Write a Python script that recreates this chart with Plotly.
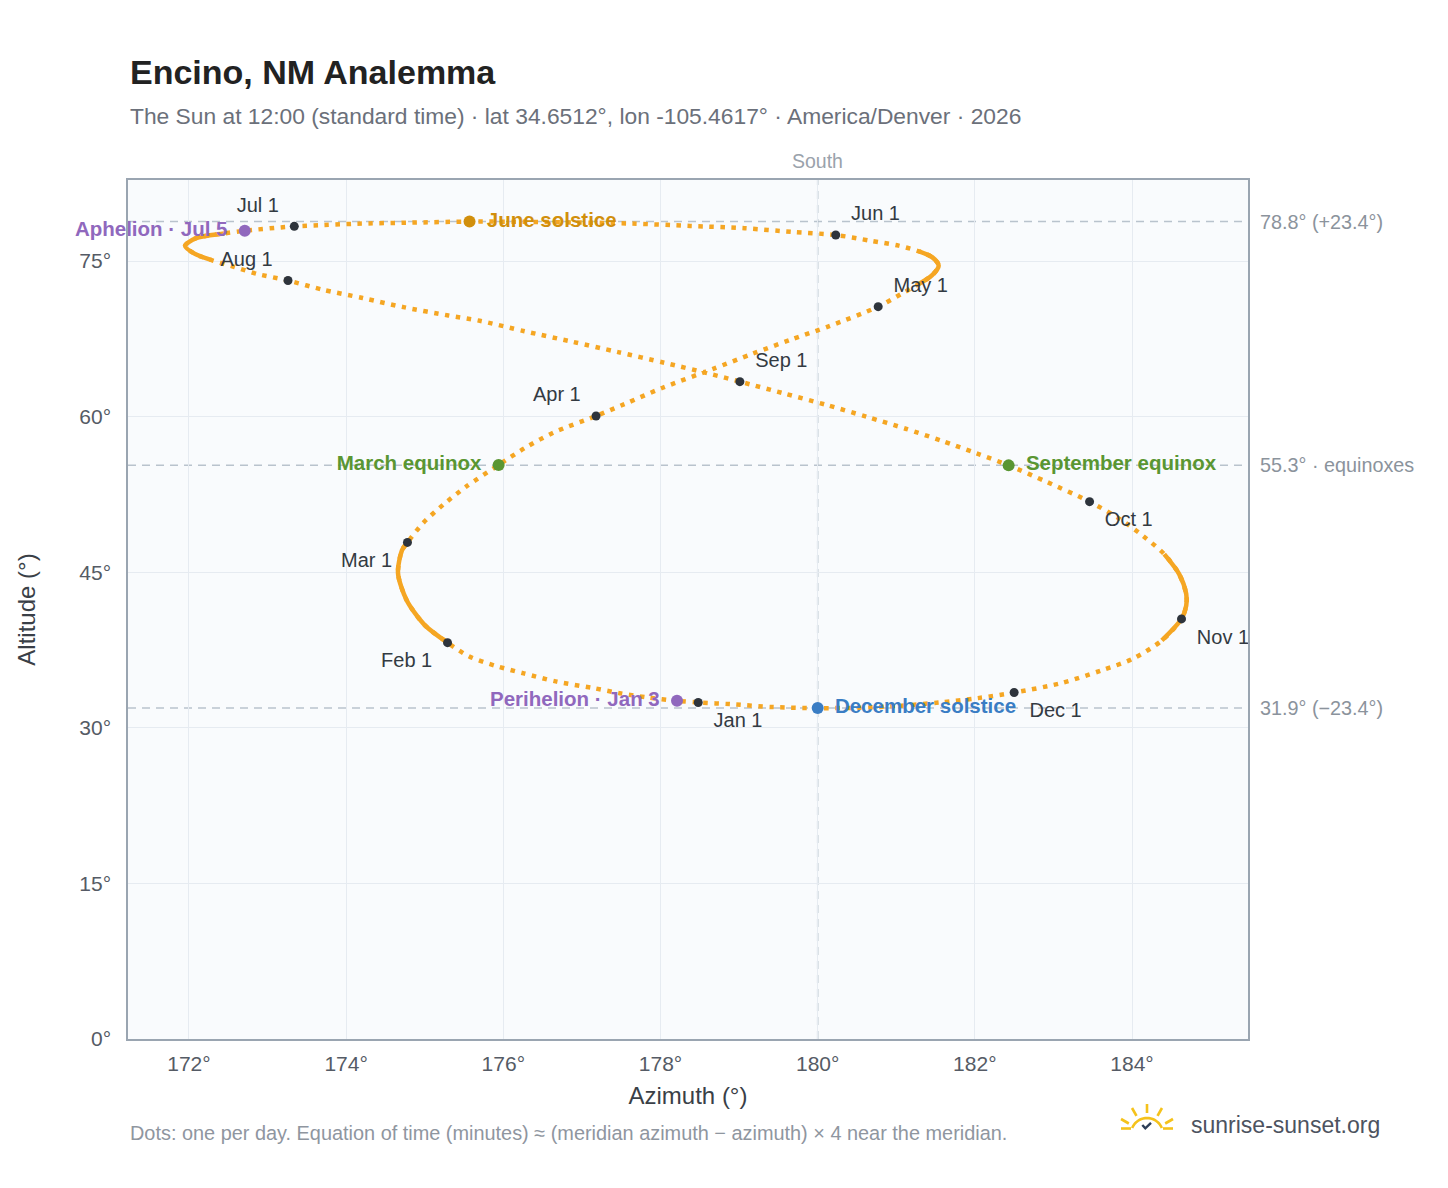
import math
import plotly.graph_objects as go

# ---- sun path at 12:00 standard time (time order, Jan 1 -> Dec 31)
path_az = [178.48, 178.21, 177.84, 177.48, 177.13, 176.68, 176.26, 175.89, 175.56, 175.29,
           175.00, 174.77, 174.66, 174.71, 174.78, 174.98, 175.24, 175.53, 175.94, 176.28,
           176.64, 177.18, 177.54, 178.02, 178.67, 179.17, 179.66, 180.14, 180.77, 181.06,
           181.27, 181.45, 181.54, 181.46, 181.29, 181.03, 180.67, 180.23, 179.68, 179.07,
           178.38, 177.64, 176.60, 175.57, 174.83, 174.14, 173.72, 173.34, 172.71, 172.45,
           172.09, 171.95, 172.07, 172.28, 172.58, 172.86, 173.26, 173.70, 174.21, 174.73,
           175.30, 175.70, 176.27, 176.87, 177.46, 178.05, 178.63, 179.01, 179.57, 180.11,
           180.63, 181.12, 181.58, 182.02, 182.43, 182.92, 183.46, 183.85, 184.14, 184.41,
           184.60, 184.69, 184.69, 184.63, 184.38, 184.01, 183.61, 183.10, 182.50, 182.04,
           181.55, 181.04, 180.51, 180.00, 179.43, 178.89, 178.48]
path_alt = [32.44, 32.60, 32.92, 33.34, 33.85, 34.45, 35.25, 36.00, 36.90, 38.21,
            39.90, 42.30, 44.90, 47.10, 47.87, 49.75, 51.54, 53.27, 55.34, 57.00,
            58.47, 60.06, 61.20, 62.76, 64.60, 66.06, 67.42, 68.70, 70.60, 71.81,
            72.71, 73.58, 74.55, 75.35, 75.93, 76.48, 76.96, 77.51, 77.80, 78.16,
            78.38, 78.61, 78.75, 78.80, 78.70, 78.60, 78.47, 78.34, 77.92, 77.66,
            77.20, 76.46, 75.71, 75.10, 74.42, 73.77, 73.12, 72.24, 71.43, 70.55,
            69.75, 69.24, 68.23, 67.23, 66.22, 65.19, 64.12, 63.37, 62.24, 61.13,
            59.97, 58.83, 57.67, 56.47, 55.30, 53.69, 51.80, 50.10, 48.50, 46.74,
            44.82, 42.90, 41.78, 40.50, 38.42, 36.65, 35.53, 34.31, 33.40, 32.86,
            32.44, 32.12, 31.93, 31.90, 32.00, 32.28, 32.44]

# stretches where the daily dots overlap into a solid line (index ranges into the path)
dense_runs = [(9, 15), (30, 35), (49, 54), (79, 85)]

# ---- first of each month
month_names = ["Jan 1", "Feb 1", "Mar 1", "Apr 1", "May 1", "Jun 1",
               "Jul 1", "Aug 1", "Sep 1", "Oct 1", "Nov 1", "Dec 1"]
month_az = [178.48, 175.29, 174.78, 177.18, 180.77, 180.23,
            173.34, 173.26, 179.01, 183.46, 184.63, 182.50]
month_alt = [32.44, 38.21, 47.87, 60.06, 70.60, 77.51,
             78.34, 73.12, 63.37, 51.80, 40.50, 33.40]
month_pos = ["bottom right", "bottom left", "bottom left", "top left", "top right", "top right",
             "top left", "top left", "top right", "bottom right", "bottom right", "bottom right"]

# ---- solstices, equinoxes, perihelion/aphelion
event_names = ["June solstice", "March equinox", "September equinox",
               "December solstice", "Perihelion · Jan 3", "Aphelion · Jul 5"]
event_az = [175.57, 175.94, 182.43, 180.00, 178.21, 172.71]
event_alt = [78.80, 55.34, 55.30, 31.90, 32.60, 77.92]
event_colors = ["#d18f0c", "#5a9632", "#5a9632", "#3a7dc4", "#9068bd", "#9068bd"]
event_pos = ["middle right", "middle left", "middle right",
             "middle right", "middle left", "middle left"]

# ---- reference altitudes
ref_alt = [78.8, 55.3, 31.9]
ref_text = ["78.8° (+23.4°)", "55.3° · equinoxes", "31.9° (−23.4°)"]

x_ticks = [172, 174, 176, 178, 180, 182, 184]
y_ticks = [0, 15, 30, 45, 60, 75]

FONT = "Liberation Sans, Arial, Helvetica, sans-serif"
PAGE = 8  # body margin of the page the figure sits in
W, H = 1440, 1180
L, R, T, B = 120, 200, 172, 149
PW, PH = W - L - R, H - T - B


def px(x):
    # page pixel -> paper x
    return (x - PAGE - L) / PW


def py(y):
    # page pixel -> paper y
    return (H - B + PAGE - y) / PH


def pad(name, pos):
    sp = "\u00a0"
    if "right" in pos:
        return sp + name
    if "left" in pos:
        return name + sp
    return name


fig = go.Figure()

fig.add_trace(go.Scatter(
    x=path_az, y=path_alt, mode="lines",
    line=dict(color="#f5a623", width=4.5, dash="4.5px,6.5px", shape="spline", smoothing=0.8),
    hoverinfo="skip"))

for i0, i1 in dense_runs:
    fig.add_trace(go.Scatter(
        x=path_az[i0:i1], y=path_alt[i0:i1], mode="lines",
        line=dict(color="#f5a623", width=4.5, shape="spline", smoothing=0.8),
        hoverinfo="skip"))

fig.add_trace(go.Scatter(
    x=month_az, y=month_alt, mode="markers",
    marker=dict(size=9, color="#2e343c"), hoverinfo="skip"))

# month labels (transparent marker sets the text offset)
fig.add_trace(go.Scatter(
    x=month_az, y=month_alt, mode="markers+text",
    text=[pad(n, p) for n, p in zip(month_names, month_pos)],
    textposition=month_pos, cliponaxis=True,
    textfont=dict(family=FONT, size=20, color="#333a42"),
    marker=dict(size=14, color="rgba(0,0,0,0)"), hoverinfo="skip"))

fig.add_trace(go.Scatter(
    x=event_az, y=event_alt, mode="markers",
    marker=dict(size=12, color=event_colors), hoverinfo="skip"))

fig.add_trace(go.Scatter(
    x=event_az, y=event_alt, mode="markers+text", text=["<b>%s</b>" % s for s in event_names],
    textposition=event_pos, cliponaxis=False,
    textfont=dict(family=FONT, size=20.5, color=event_colors),
    marker=dict(size=26, color="rgba(0,0,0,0)"), hoverinfo="skip"))

shapes = []
for a in ref_alt:
    shapes.append(dict(type="line", xref="paper", x0=0, x1=1, yref="y", y0=a, y1=a,
                       line=dict(color="#b9c3cd", width=1.5, dash="8px,6px"), layer="between"))
shapes.append(dict(type="line", xref="x", x0=180, x1=180, yref="paper", y0=0, y1=1,
                   line=dict(color="#b3bec9", width=1.5, dash="8px,6px"), layer="between"))

# logo: rising sun with a check mark
cx, cy, rr = 1147, 1134, 16
arc = []
for i in range(0, 21):
    t = math.radians(158 - i * (136 / 20))
    arc.append((cx + rr * math.cos(t), cy - rr * math.sin(t)))
path = "M " + " L ".join("%.5f,%.5f" % (px(a), py(b)) for a, b in arc)
shapes.append(dict(type="path", xref="paper", yref="paper", path=path,
                   line=dict(color="#f5c21b", width=2.6)))
for ang in [30, 60, 90, 120, 150]:
    t = math.radians(ang)
    shapes.append(dict(type="line", xref="paper", yref="paper",
                       x0=px(cx + 21 * math.cos(t)), y0=py(cy - 21 * math.sin(t)),
                       x1=px(cx + 30 * math.cos(t)), y1=py(cy - 30 * math.sin(t)),
                       line=dict(color="#f5c21b", width=2.6)))
for x0, x1 in [(1121, 1131), (1163, 1173)]:
    shapes.append(dict(type="line", xref="paper", yref="paper",
                       x0=px(x0), x1=px(x1), y0=py(1128.5), y1=py(1128.5),
                       line=dict(color="#f5c21b", width=2.6)))
shapes.append(dict(type="path", xref="paper", yref="paper",
                   path="M %.5f,%.5f L %.5f,%.5f L %.5f,%.5f" % (
                       px(1142.3), py(1125), px(1145.3), py(1128.3), px(1151), py(1122.8)),
                   line=dict(color="#2c3e58", width=2.4)))

annotations = [
    dict(text="<b>Encino, NM Analemma</b>", xref="paper", yref="paper", x=px(128), y=py(72),
         xanchor="left", yanchor="middle", showarrow=False,
         font=dict(family=FONT, size=34, color="#222222")),
    dict(text="The Sun at 12:00 (standard time) · lat 34.6512°, lon -105.4617° · America/Denver · 2026",
         xref="paper", yref="paper", x=px(128), y=py(116), xanchor="left", yanchor="middle",
         showarrow=False, font=dict(family=FONT, size=22.8, color="#6b707a")),
    dict(text="South", xref="x", yref="paper", x=180, y=py(161), xanchor="center",
         yanchor="middle", showarrow=False, font=dict(family=FONT, size=19.5, color="#9aa2ab")),
    dict(text="Dots: one per day. Equation of time (minutes) ≈ (meridian azimuth − azimuth) × 4 near the meridian.",
         xref="paper", yref="paper", x=px(128), y=py(1133), xanchor="left", yanchor="middle",
         showarrow=False, font=dict(family=FONT, size=19.9, color="#8f969f")),
    dict(text="sunrise-sunset.org", xref="paper", yref="paper", x=px(1189), y=py(1125),
         xanchor="left", yanchor="middle", showarrow=False,
         font=dict(family=FONT, size=23, color="#4d535f")),
]
for a, t in zip(ref_alt, ref_text):
    annotations.append(dict(text=t, xref="paper", yref="y", x=px(1258), y=a, xanchor="left",
                            yanchor="middle", showarrow=False,
                            font=dict(family=FONT, size=19.8, color="#8b939c")))

fig.update_layout(
    width=W, height=H,
    margin=dict(l=L, r=R, t=T, b=B),
    paper_bgcolor="white", plot_bgcolor="#f9fbfd",
    showlegend=False,
    font=dict(family=FONT, size=21, color="#555b65"),
    shapes=shapes, annotations=annotations,
)
fig.update_xaxes(
    range=[171.224, 185.476], tickvals=x_ticks, ticktext=["%d°" % v for v in x_ticks],
    showgrid=True, gridcolor="#e6ebf1", gridwidth=1, zeroline=False,
    showline=True, linecolor="#9aa5b1", linewidth=1.5, mirror=True, ticks="", ticklen=0,
    ticklabelstandoff=5,
    tickfont=dict(family=FONT, size=21, color="#555b65"),
    title=dict(text="Azimuth (°)", font=dict(family=FONT, size=24, color="#3a3f47"), standoff=13),
)
fig.update_yaxes(
    range=[0, 82.81], tickvals=y_ticks, ticktext=["%d°" % v for v in y_ticks],
    showgrid=True, gridcolor="#e6ebf1", gridwidth=1, zeroline=False,
    showline=True, linecolor="#9aa5b1", linewidth=1.5, mirror=True, ticks="", ticklen=0,
    ticklabelstandoff=11,
    tickfont=dict(family=FONT, size=21, color="#555b65"),
    title=dict(text="Altitude (°)", font=dict(family=FONT, size=24, color="#3a3f47"), standoff=37),
)

fig.write_html("out.html")
